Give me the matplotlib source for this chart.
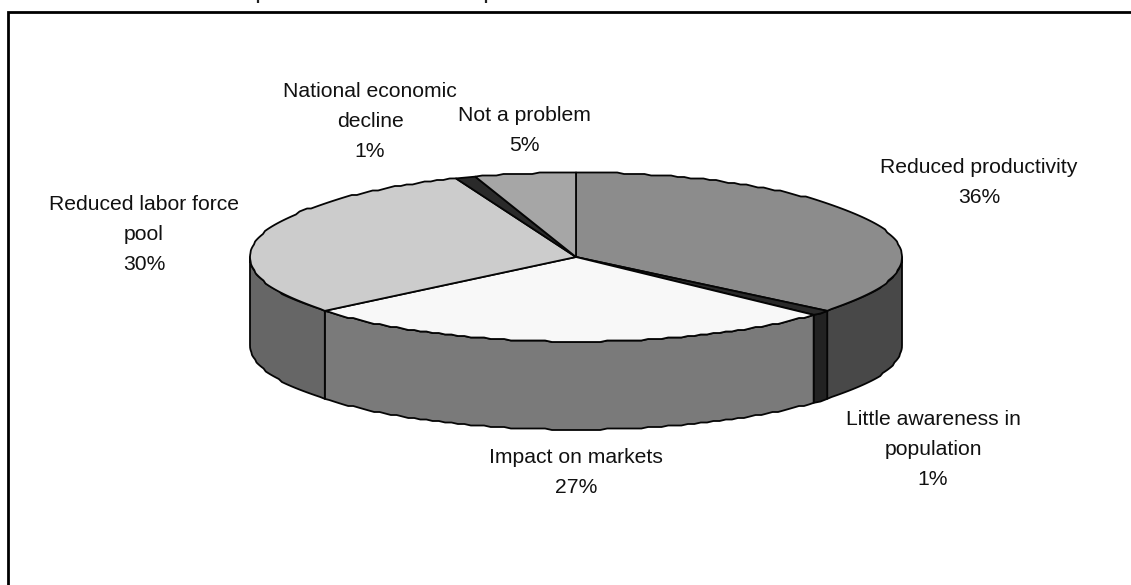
import numpy as np
import matplotlib
matplotlib.use("Agg")
import matplotlib.pyplot as plt
from matplotlib.patches import Polygon

plt.rcParams["font.family"] = ["Liberation Sans", "DejaVu Sans"]

# Survey shares, clockwise from twelve o'clock
categories = ["Reduced productivity", "Little awareness in population", "Impact on markets",
              "Reduced labor force pool", "National economic decline", "Not a problem"]
shares = [36, 1, 27, 30, 1, 5]
top_colors = ["#8c8c8c", "#2a2a2a", "#f8f8f8", "#cccccc", "#2a2a2a", "#a6a6a6"]
side_colors = ["#484848", "#222222", "#7a7a7a", "#666666", "#222222", "#6e6e6e"]
label_lines = ["Reduced productivity\n36%", "Little awareness in\npopulation\n1%",
               "Impact on markets\n27%", "Reduced labor force\npool\n30%",
               "National economic\ndecline\n1%", "Not a problem\n5%"]
label_x = [979, 933, 576, 144, 370, 524]
label_y = [182.5, 449.5, 472.5, 234.5, 121.5, 130.5]

W, H = 1131, 585
CX, CY, RX, RY, DEPTH = 576.0, 257.0, 326.0, 84.5, 88.0
LINE = "#050505"
LW = 1.3

fig = plt.figure(figsize=(W / 100, H / 100), dpi=100, facecolor="white")
ax = fig.add_axes([0, 0, 1, 1])
ax.set_xlim(0, W)
ax.set_ylim(H, 0)
ax.axis("off")


def rim(t0, t1, drop=0.0):
    """Points along the pie rim between two clockwise angles, on a coarse pixel grid."""
    n = max(2, int(abs(t1 - t0) / np.radians(1.2)))
    t = np.linspace(t0, t1, n)
    x = CX + RX * np.sin(t)
    y = CY - RY * np.cos(t)
    pts = np.column_stack([x, np.round(y / 1.5) * 1.5 + drop])
    pts[0, 1] = y[0] + drop
    pts[-1, 1] = y[-1] + drop
    return pts


edges = np.radians(np.concatenate([[0], np.cumsum(shares)]) * 3.6)

# Cylinder wall: only the part of each slice facing the viewer
for i in range(len(shares)):
    a, b = max(edges[i], np.pi / 2), min(edges[i + 1], 3 * np.pi / 2)
    if a >= b:
        continue
    wall = np.vstack([rim(a, b), rim(a, b, DEPTH)[::-1]])
    ax.add_patch(Polygon(wall, closed=True, facecolor=side_colors[i], edgecolor=LINE,
                         linewidth=LW, joinstyle="round"))

# Top face
for i in range(len(shares)):
    wedge = np.vstack([[CX, CY], rim(edges[i], edges[i + 1])])
    ax.add_patch(Polygon(wedge, closed=True, facecolor=top_colors[i], edgecolor=LINE,
                         linewidth=LW, joinstyle="round"))

for text, x, y in zip(label_lines, label_x, label_y):
    ax.text(x, y, text, ha="center", va="center", fontsize=15.2, color="#111111",
            linespacing=1.72)

# Chart frame: open on the right and at the bottom
ax.plot([8, 8, W], [H, 12, 12], color="black", linewidth=2.0, solid_joinstyle="miter")

# Small strokes left at the very top edge
for x in (258, 486):
    ax.plot([x, x], [0, 3], color="#222222", linewidth=1.6, solid_capstyle="butt")

fig.savefig("out.png", dpi=100)
